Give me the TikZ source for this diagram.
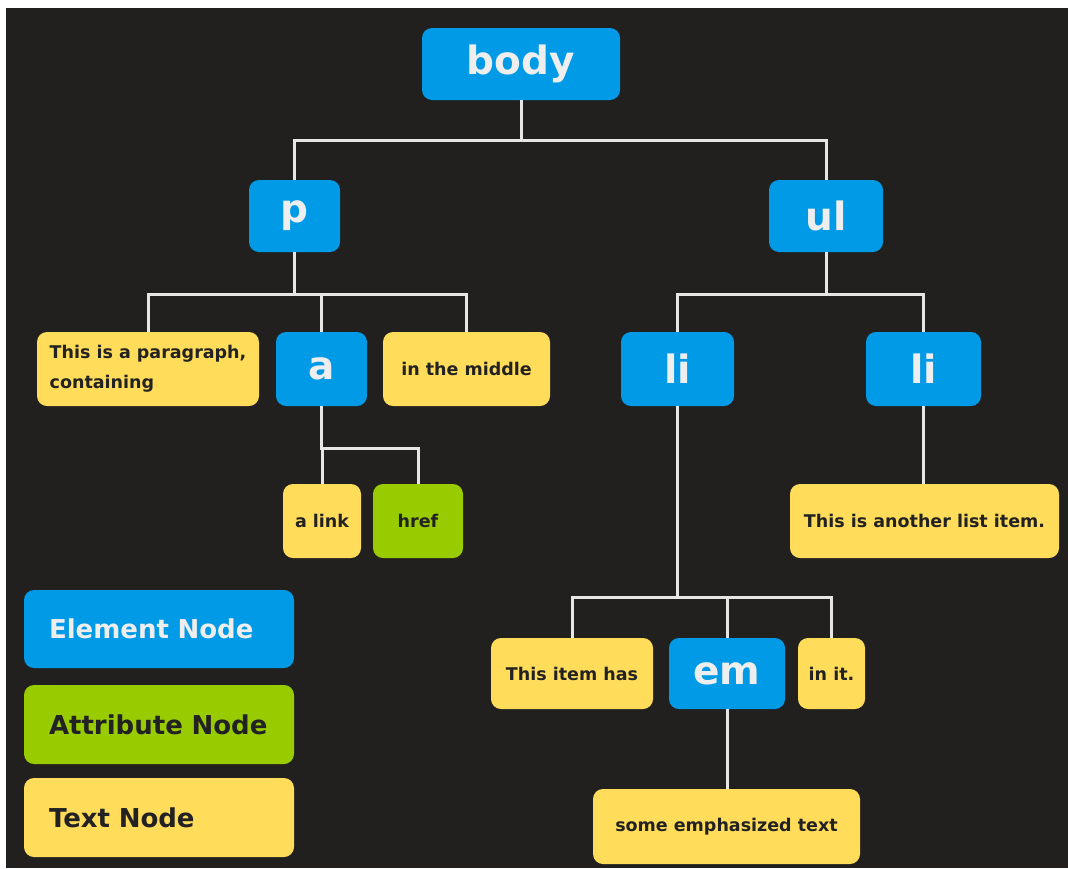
\documentclass[tikz,border=0pt]{standalone}
\usepackage{fontspec}
\setmainfont{DejaVu Sans}
\definecolor{bg}{HTML}{21201E}
\definecolor{elemblue}{HTML}{009AE6}
\definecolor{attrgreen}{HTML}{99CC00}
\definecolor{textyellow}{HTML}{FFDC5A}
\definecolor{darktext}{HTML}{222222}
\definecolor{lighttext}{HTML}{EEEEEE}
\definecolor{wire}{HTML}{E6E6E6}
\begin{document}
\begin{tikzpicture}[x=1pt,y=-1pt,
  box/.style={rounded corners=10pt, inner sep=0pt, anchor=center, font=\bfseries},
  elem/.style={box, fill=elemblue, text=lighttext, font=\fontsize{39}{44}\selectfont\bfseries},
  attr/.style={box, fill=attrgreen, text=darktext, font=\fontsize{17.5}{30}\selectfont\bfseries},
  txt/.style={box, fill=textyellow, text=darktext, font=\fontsize{17.5}{30}\selectfont\bfseries},
  legend/.style={box, minimum width=270pt, text width=220pt, inner xsep=25pt, align=left, font=\fontsize{26}{30}\selectfont\bfseries},
  link/.style={draw=wire, line width=3pt}]
\useasboundingbox (0,0) rectangle (1068,868);
\fill[white] (0,0) rectangle (1068,868);
\fill[bg] (6,8) rectangle (1068,868);

% element nodes
\node[elem, minimum width=198pt, minimum height=72pt] (body) at (521,64) {body};
\node[elem, minimum width=91pt, minimum height=72pt] (p) at (294.5,216) {p};
\node[elem, minimum width=114pt, minimum height=72pt] (ul) at (826,216) {ul};
\node[txt, minimum width=222pt, minimum height=74pt, align=left] (para) at (148,369) {This is a paragraph,\\containing};
\node[elem, minimum width=91pt, minimum height=74pt] (a) at (321.5,369) {a};
\node[txt, minimum width=167pt, minimum height=74pt] (mid) at (466.5,369) {in the middle};
\node[elem, minimum width=113pt, minimum height=74pt] (li1) at (677.5,369) {li};
\node[elem, minimum width=115pt, minimum height=74pt] (li2) at (923.5,369) {li};
\node[txt, minimum width=78pt, minimum height=74pt] (alink) at (322,521) {a link};
\node[attr, minimum width=90pt, minimum height=74pt] (href) at (418,521) {href};
\node[txt, minimum width=269pt, minimum height=74pt] (another) at (924.5,521) {This is another list item.};
\node[txt, minimum width=162pt, minimum height=71pt] (has) at (572,673.5) {This item has};
\node[elem, minimum width=116pt, minimum height=71pt] (em) at (727,673.5) {em};
\node[txt, minimum width=67pt, minimum height=71pt] (init) at (831.5,673.5) {in it.};
\node[txt, minimum width=267pt, minimum height=75pt] (some) at (726.5,826.5) {some emphasized text};

% legend
\node[legend, fill=elemblue, text=lighttext, minimum height=78pt] (legE) at (159,629) {Element Node};
\node[legend, fill=attrgreen, text=darktext, minimum height=79pt] (legA) at (159,724.5) {Attribute Node};
\node[legend, fill=textyellow, text=darktext, minimum height=79pt] (legT) at (159,817.5) {Text Node};

% connectors
\coordinate (bodybus) at (521,140);
\coordinate (pbus) at (294.5,294);
\coordinate (abus) at (321.5,448);
\coordinate (ulbus) at (826,294);
\coordinate (libus) at (677.5,597);

\draw[link] (body.south) -- (bodybus) -| (p.north);
\draw[link] (bodybus) -| (ul.north);

\draw[link] (p.south) -- (pbus) -| (para.north);
\draw[link] (pbus) -| (mid.north);
\draw[link] (pbus) -| (a.north);

\draw[link] (a.south) -- (abus) -| (alink.north);
\draw[link] (abus) -| (href.north);

\draw[link] (ul.south) -- (ulbus) -| (li1.north);
\draw[link] (ulbus) -| (li2.north);

\draw[link] (li1.south) -- (libus) -| (has.north);
\draw[link] (libus) -| (init.north);
\draw[link] (libus) -| (em.north);

\draw[link] (em.south) -- (em.south |- some.north);
\draw[link] (li2.south) -- (li2.south |- another.north);
\end{tikzpicture}
\end{document}
